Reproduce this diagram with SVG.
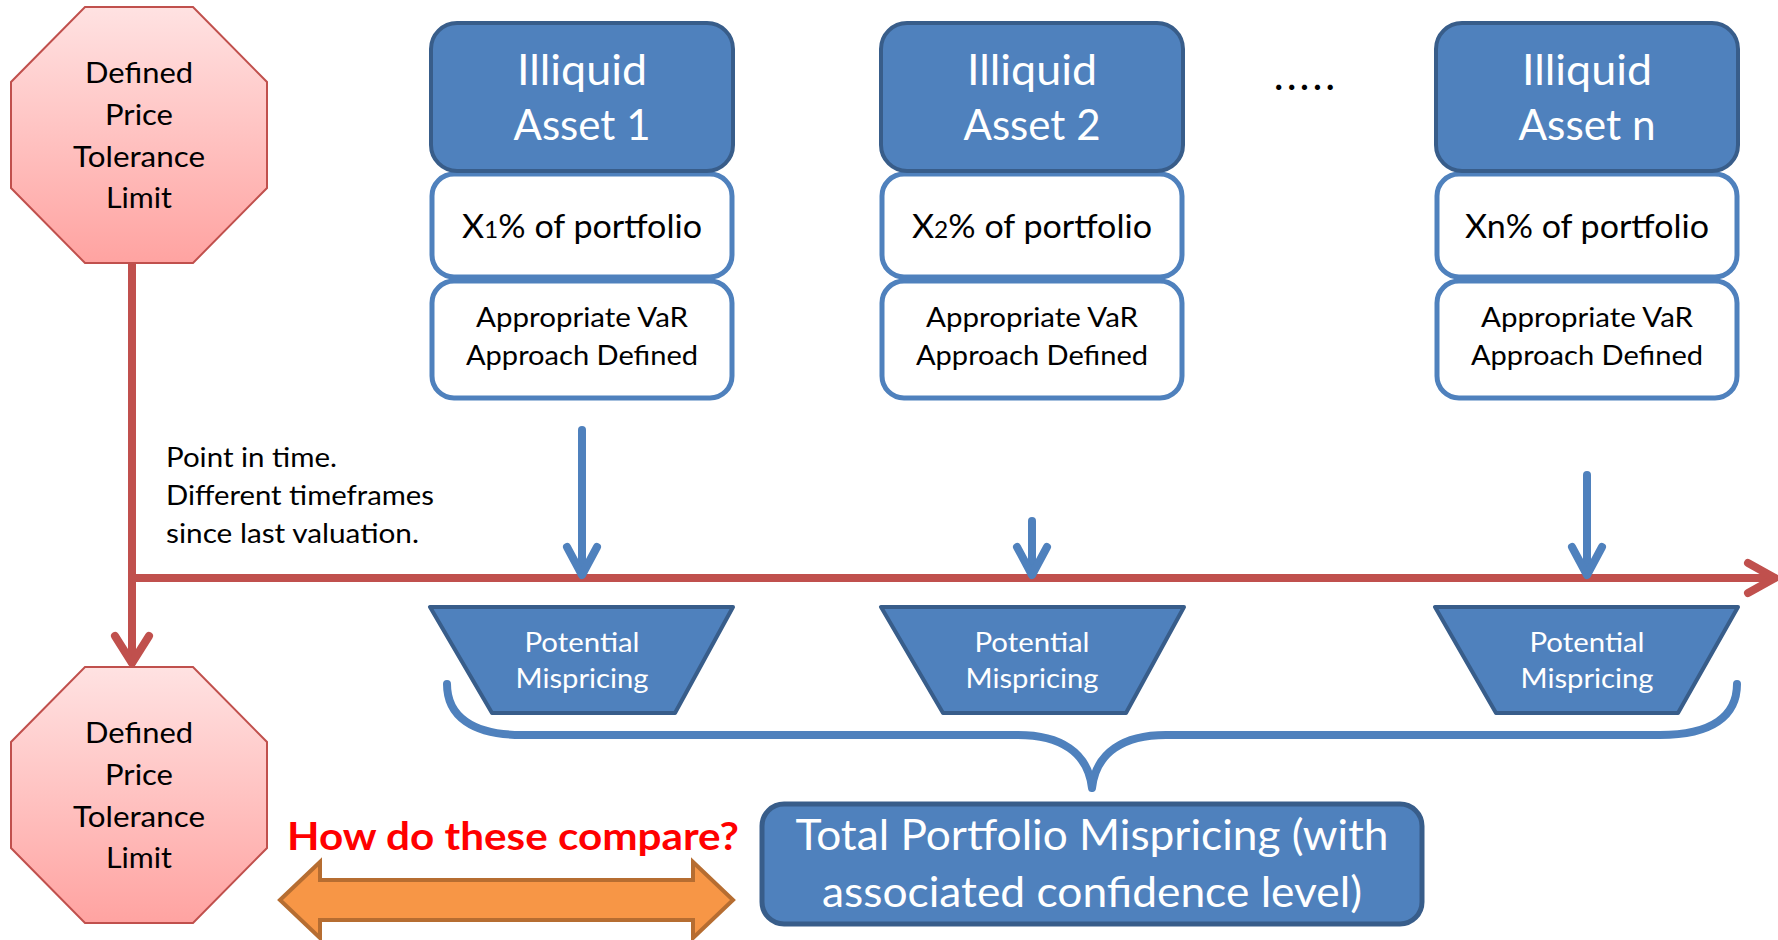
<svg xmlns="http://www.w3.org/2000/svg" width="1778" height="940" viewBox="0 0 1778 940">
<defs>
<linearGradient id="octGrad" x1="0" y1="0" x2="0" y2="1">
<stop offset="0" stop-color="#ffe2e2"/>
<stop offset="1" stop-color="#ffa3a1"/>
</linearGradient>
<style>
text{font-family:Lato,"Open Sans",sans-serif;text-anchor:middle}
.oct{fill:url(#octGrad);stroke:#c0504d;stroke-width:2}
.octT{font-size:29px;fill:#000}
.hdr{fill:#4f81bd;stroke:#385d8a;stroke-width:4}
.hdrT{font-size:42px;fill:#fff}
.wbox{fill:#fff;stroke:#4f81bd;stroke-width:5}
.pctT{font-size:32px;fill:#000}
.varT{font-size:26px;fill:#000}
.trap{fill:#4f81bd;stroke:#385d8a;stroke-width:4;stroke-linejoin:round}
.trapT{font-size:27px;fill:#fff}
.red{fill:none;stroke:#c0504d;stroke-width:8;stroke-linecap:round;stroke-linejoin:round}
.blue{fill:none;stroke:#4f81bd;stroke-width:8;stroke-linecap:round;stroke-linejoin:round}
.note{font-size:27px;fill:#000;text-anchor:start}
.total{fill:#4f81bd;stroke:#385d8a;stroke-width:5}
.totalT{font-size:42px;fill:#fff}
.cmp{font-size:39px;font-weight:bold;fill:#ff0000}
</style>
</defs>
<rect width="1778" height="940" fill="#fff"/>

<g id="connectors">
<path class="red" d="M132,263 L132,662"/>
<path class="red" d="M115,636 L132,663 L149,636"/>
<path class="red" d="M132,578 L1774,578"/>
<path class="red" d="M1748,563 L1775,578 L1748,593"/>
<path class="blue" d="M582,430 L582,574"/>
<path class="blue" d="M567,547 L582,575 L597,547"/>
<path class="blue" d="M1032,521 L1032,574"/>
<path class="blue" d="M1017,547 L1032,575 L1047,547"/>
<path class="blue" d="M1587,475 L1587,574"/>
<path class="blue" d="M1572,547 L1587,575 L1602,547"/>
<path id="brace" class="blue" d="M447,684 C447,716 472,735 522,735 L1018,735 C1060,735 1088,752 1092,788 C1096,752 1124,735 1166,735 L1660,735 C1712,735 1737,716 1737,684"/>
</g>

<g id="limit-top">
<polygon class="oct" points="85,7 193,7 267,82 267,188 193,263 85,263 11,188 11,82"/>
<text class="octT" x="139" y="83" textLength="108" lengthAdjust="spacingAndGlyphs">Defined</text>
<text class="octT" x="139" y="125" textLength="68" lengthAdjust="spacingAndGlyphs">Price</text>
<text class="octT" x="139" y="167" textLength="132" lengthAdjust="spacingAndGlyphs">Tolerance</text>
<text class="octT" x="139" y="208" textLength="66" lengthAdjust="spacingAndGlyphs">Limit</text>
</g>

<g id="limit-bottom">
<polygon class="oct" points="85,667 193,667 267,742 267,848 193,923 85,923 11,848 11,742"/>
<text class="octT" x="139" y="743" textLength="108" lengthAdjust="spacingAndGlyphs">Defined</text>
<text class="octT" x="139" y="785" textLength="68" lengthAdjust="spacingAndGlyphs">Price</text>
<text class="octT" x="139" y="827" textLength="132" lengthAdjust="spacingAndGlyphs">Tolerance</text>
<text class="octT" x="139" y="868" textLength="66" lengthAdjust="spacingAndGlyphs">Limit</text>
</g>

<g id="asset-1">
<rect class="wbox" x="432" y="281" width="300" height="117" rx="22"/>
<rect class="wbox" x="432" y="174" width="300" height="103" rx="22"/>
<rect class="hdr" x="431" y="23" width="302" height="148" rx="26"/>
<text class="hdrT" x="582" y="85" textLength="130" lengthAdjust="spacingAndGlyphs">Illiquid</text>
<text class="hdrT" x="582" y="140" textLength="137" lengthAdjust="spacingAndGlyphs">Asset 1</text>
<text class="pctT" x="582" y="238" textLength="240" lengthAdjust="spacingAndGlyphs">X<tspan font-size="23px">1</tspan>% of portfolio</text>
<text class="varT" x="582" y="327" textLength="212" lengthAdjust="spacingAndGlyphs">Appropriate VaR</text>
<text class="varT" x="582" y="365" textLength="232" lengthAdjust="spacingAndGlyphs">Approach Defined</text>
</g>

<g id="asset-2">
<rect class="wbox" x="882" y="281" width="300" height="117" rx="22"/>
<rect class="wbox" x="882" y="174" width="300" height="103" rx="22"/>
<rect class="hdr" x="881" y="23" width="302" height="148" rx="26"/>
<text class="hdrT" x="1032" y="85" textLength="130" lengthAdjust="spacingAndGlyphs">Illiquid</text>
<text class="hdrT" x="1032" y="140" textLength="137" lengthAdjust="spacingAndGlyphs">Asset 2</text>
<text class="pctT" x="1032" y="238" textLength="240" lengthAdjust="spacingAndGlyphs">X<tspan font-size="23px">2</tspan>% of portfolio</text>
<text class="varT" x="1032" y="327" textLength="212" lengthAdjust="spacingAndGlyphs">Appropriate VaR</text>
<text class="varT" x="1032" y="365" textLength="232" lengthAdjust="spacingAndGlyphs">Approach Defined</text>
</g>

<text id="ellipsis" x="1306" y="90" style="font-size:42px;fill:#000;letter-spacing:3px">.....</text>

<g id="asset-n">
<rect class="wbox" x="1437" y="281" width="300" height="117" rx="22"/>
<rect class="wbox" x="1437" y="174" width="300" height="103" rx="22"/>
<rect class="hdr" x="1436" y="23" width="302" height="148" rx="26"/>
<text class="hdrT" x="1587" y="85" textLength="130" lengthAdjust="spacingAndGlyphs">Illiquid</text>
<text class="hdrT" x="1587" y="140" textLength="137" lengthAdjust="spacingAndGlyphs">Asset n</text>
<text class="pctT" x="1587" y="238" textLength="244" lengthAdjust="spacingAndGlyphs">Xn% of portfolio</text>
<text class="varT" x="1587" y="327" textLength="212" lengthAdjust="spacingAndGlyphs">Appropriate VaR</text>
<text class="varT" x="1587" y="365" textLength="232" lengthAdjust="spacingAndGlyphs">Approach Defined</text>
</g>

<g id="note">
<text class="note" x="166" y="467" textLength="171" lengthAdjust="spacingAndGlyphs">Point in time.</text>
<text class="note" x="166" y="505" textLength="268" lengthAdjust="spacingAndGlyphs">Different timeframes</text>
<text class="note" x="166" y="543" textLength="253" lengthAdjust="spacingAndGlyphs">since last valuation.</text>
</g>

<g id="mispricing-1">
<polygon class="trap" points="430,607 733,607 675,713 492,713"/>
<text class="trapT" x="582" y="652" textLength="115" lengthAdjust="spacingAndGlyphs">Potential</text>
<text class="trapT" x="582" y="688" textLength="133" lengthAdjust="spacingAndGlyphs">Mispricing</text>
</g>
<g id="mispricing-2">
<polygon class="trap" points="881,607 1184,607 1126,713 943,713"/>
<text class="trapT" x="1032" y="652" textLength="115" lengthAdjust="spacingAndGlyphs">Potential</text>
<text class="trapT" x="1032" y="688" textLength="133" lengthAdjust="spacingAndGlyphs">Mispricing</text>
</g>
<g id="mispricing-n">
<polygon class="trap" points="1435,607 1738,607 1678,713 1496,713"/>
<text class="trapT" x="1587" y="652" textLength="115" lengthAdjust="spacingAndGlyphs">Potential</text>
<text class="trapT" x="1587" y="688" textLength="133" lengthAdjust="spacingAndGlyphs">Mispricing</text>
</g>

<g id="total">
<rect class="total" x="762" y="804" width="660" height="120" rx="22"/>
<text class="totalT" x="1092" y="850" textLength="593" lengthAdjust="spacingAndGlyphs">Total Portfolio Mispricing (with</text>
<text class="totalT" x="1092" y="907" textLength="540" lengthAdjust="spacingAndGlyphs">associated confidence level)</text>
</g>

<g id="compare">
<text class="cmp" x="513" y="850" textLength="452" lengthAdjust="spacingAndGlyphs">How do these compare?</text>
<polygon points="280,900 320,862 320,880 693,880 693,862 733,900 693,938 693,920 320,920 320,938" fill="#f79646" stroke="#b66d31" stroke-width="4" stroke-linejoin="miter"/>
</g>
</svg>
